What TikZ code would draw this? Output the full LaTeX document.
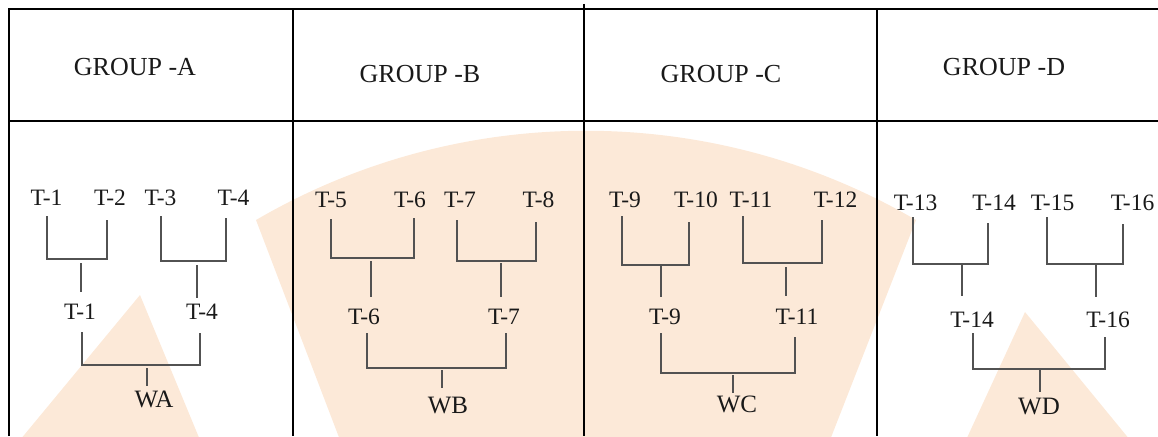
\documentclass[tikz,border=0pt]{standalone}
\usepackage{fontspec}
\setmainfont{Liberation Serif}
\definecolor{peach}{RGB}{252,233,216}
\definecolor{inkgray}{RGB}{82,82,82}
\definecolor{textdark}{RGB}{25,25,25}
% One bracket joining two entries and its stem down to the winner.
% #1 name, #2/#3 left leg top, #4/#5 right leg top, #6 bar level,
% #7 stem x, #8/#9 stem top and bottom
\newcommand{\pairjoin}[9]{%
  \coordinate (#1-l) at (#2,#3);
  \coordinate (#1-r) at (#4,#5);
  \coordinate (#1-h) at (#2,#6);
  \coordinate (#1-s) at (#7,#8);
  \coordinate (#1-e) at (#7,#9);
  \draw[link] (#1-l) -- (#1-h) -| (#1-r);
  \draw[link] (#1-s) -- (#1-e);
}
\begin{document}
\begin{tikzpicture}[x=1pt,y=-1pt,
  rule/.style={line width=2.8pt,black},
  link/.style={line width=1.9pt,inkgray},
  team/.style={font=\fontsize{23.5}{27}\selectfont,text=textdark,inner sep=0pt},
  head/.style={font=\fontsize{26}{30}\selectfont,text=textdark,inner sep=0pt},
  win/.style={font=\fontsize{25}{28}\selectfont,text=textdark,inner sep=0pt}]
\useasboundingbox (0,0) rectangle (1158,436);
\clip (0,0) rectangle (1158,436);

% background marks
\fill[peach] (340,440) -- (256,220) .. controls (460,101) and (712,101) .. (916,220) -- (830,440) -- cycle;
\fill[peach] (20,440) -- (140,295) -- (200,440) -- cycle;
\fill[peach] (966,440) -- (1025,312) -- (1130,440) -- cycle;

% table rules
\draw[rule] (9,436) -- (9,9) -- (1158,9);
\draw[rule] (9,121) -- (1158,121);
\draw[rule] (293,9) -- (293,436);
\draw[rule] (584,4) -- (584,436);
\draw[rule] (877,9) -- (877,436);

% headers
\node[head] (ha) at (135,67) {GROUP -A};
\node[head] (hb) at (420,74) {GROUP -B};
\node[head] (hc) at (721,74) {GROUP -C};
\node[head] (hd) at (1004,67) {GROUP -D};

% group A
\node[team] (a1) at (46.5,197.5) {T-1};
\node[team] (a2) at (110,197.5) {T-2};
\node[team] (a3) at (160.5,197.5) {T-3};
\node[team] (a4) at (233.5,197.5) {T-4};
\node[team] (a5) at (80,312) {T-1};
\node[team] (a6) at (202,312) {T-4};
\node[win] (wa) at (154,399) {WA};
\pairjoin{ja1}{47}{216}{107}{220}{259}{81}{263}{292}
\pairjoin{ja2}{161}{216}{226}{218}{261}{197}{265}{298}
\pairjoin{ja3}{82}{332}{200}{333}{365}{147}{368}{386}

% group B
\node[team] (b1) at (331,200) {T-5};
\node[team] (b2) at (410,200) {T-6};
\node[team] (b3) at (460,200) {T-7};
\node[team] (b4) at (538.5,200) {T-8};
\node[team] (b5) at (364,317) {T-6};
\node[team] (b6) at (504,317) {T-7};
\node[win] (wb) at (448,405) {WB};
\pairjoin{jb1}{331}{219}{414}{218}{258}{371}{261}{297}
\pairjoin{jb2}{457}{220}{536}{222}{261}{501}{263}{297}
\pairjoin{jb3}{367}{333}{506}{333}{368}{442}{370}{388}

% group C
\node[team] (c1) at (625,200) {T-9};
\node[team] (c2) at (696,200) {T-10};
\node[team] (c3) at (751,200) {T-11};
\node[team] (c4) at (835.5,200) {T-12};
\node[team] (c5) at (665,317) {T-9};
\node[team] (c6) at (797,317) {T-11};
\node[win] (wc) at (737,404) {WC};
\pairjoin{jc1}{622}{216}{689}{222}{265}{661}{266}{297}
\pairjoin{jc2}{743}{216}{822}{220}{263}{786}{267}{296}
\pairjoin{jc3}{661}{333}{795}{337}{373}{733}{375}{393}

% group D
\node[team] (d1) at (915.5,203) {T-13};
\node[team] (d2) at (994,203) {T-14};
\node[team] (d3) at (1052.5,203) {T-15};
\node[team] (d4) at (1132.5,203) {T-16};
\node[team] (d5) at (972,320) {T-14};
\node[team] (d6) at (1108,320) {T-16};
\node[win] (wd) at (1039,406) {WD};
\pairjoin{jd1}{913}{217}{988}{223}{264}{962}{265}{296}
\pairjoin{jd2}{1047}{217}{1123}{224}{264}{1096}{265}{297}
\pairjoin{jd3}{973}{333}{1105}{337}{369}{1040}{370}{392}
\end{tikzpicture}
\end{document}
